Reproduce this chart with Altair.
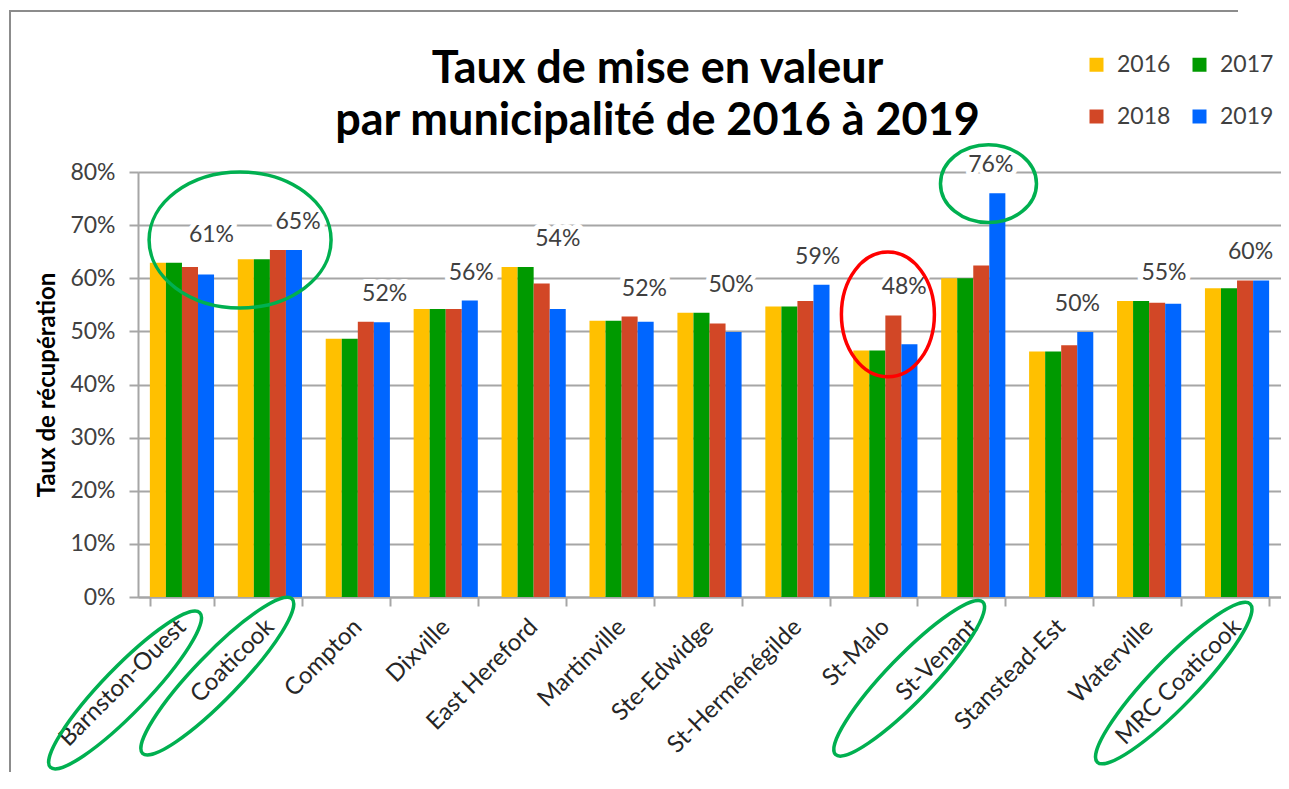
import altair as alt
import pandas as pd

# ---------------- data ----------------
categories = ["Barnston-Ouest", "Coaticook", "Compton", "Dixville", "East Hereford",
              "Martinville", "Ste-Edwidge", "St-Herménégilde", "St-Malo", "St-Venant",
              "Stanstead-Est", "Waterville", "MRC Coaticook"]
years = ["2016", "2017", "2018", "2019"]
v2016 = [0.629, 0.636, 0.486, 0.542, 0.621, 0.520, 0.535, 0.547, 0.464, 0.600, 0.462, 0.557, 0.581]
v2017 = [0.629, 0.636, 0.486, 0.542, 0.621, 0.520, 0.535, 0.547, 0.464, 0.600, 0.462, 0.557, 0.581]
v2018 = [0.621, 0.653, 0.518, 0.542, 0.590, 0.528, 0.515, 0.557, 0.530, 0.624, 0.474, 0.554, 0.596]
v2019 = [0.607, 0.653, 0.517, 0.558, 0.542, 0.518, 0.499, 0.588, 0.476, 0.760, 0.499, 0.552, 0.596]
year_colors = ["#FFC000", "#009A00", "#D24726", "#0066FF"]

# hand-drawn highlight ellipses (annotations), anchored on a category
ann_cat = ["Coaticook", "St-Venant", "St-Malo", "Barnston-Ouest", "Coaticook", "St-Venant", "MRC Coaticook"]
ann_shift = [-0.339, 0.173, 0.029, -0.647, -0.598, -0.729, -0.72]
ann_val = [0.672, 0.778, 0.532, -0.175, -0.149, -0.153, -0.162]
ann_len = [182, 96, 125, 215, 215, 212, 220]
ann_ratio = [0.747, 0.81, 0.744, 0.21, 0.21, 0.21, 0.21]
ann_angle = [0, 0, 90, 314, 314, 314, 314]
ann_color = ["#00B050", "#00B050", "#FF0000", "#00B050", "#00B050", "#00B050", "#00B050"]

# ---------------- tables ----------------
rows = []
for vals, yr in zip([v2016, v2017, v2018, v2019], years):
    for c, v in zip(categories, vals):
        rows.append({"commune": c, "annee": yr, "taux": v})
df = pd.DataFrame(rows)


def ellipse_path(r):
    return f"M-1,0A1,{r},0,1,0,1,0A1,{r},0,1,0,-1,0Z"


ann = pd.DataFrame({
    "pos": [categories.index(c) + 0.5 + s for c, s in zip(ann_cat, ann_shift)],
    "val": ann_val,
    "sz": [l * l for l in ann_len],
    "path": [ellipse_path(r) for r in ann_ratio],
    "ang": ann_angle,
    "col": ann_color,
})

FONT = "Lato"
GRID = "#a6a6a6"
YTITLE = "Taux de récupération"

x_band = alt.X("commune:N", sort=categories,
               scale=alt.Scale(paddingInner=0.27, paddingOuter=0.135),
               axis=alt.Axis(title=None, labelAngle=-45, labelAlign="right", labelBaseline="middle",
                             labelFont=FONT, labelFontSize=24, labelColor="#262626",
                             labelPadding=17, tickBand="extent", tickSize=9, tickColor=GRID,
                             tickWidth=2, domainColor=GRID, domainWidth=2, grid=False,
                             labelOverlap=False))
x_off = alt.XOffset("annee:N", sort=years,
                    scale=alt.Scale(domain=years, paddingInner=0, paddingOuter=0))
y_scale = alt.Scale(domain=[0, 0.8], nice=False, zero=True)

bars = alt.Chart(df).mark_bar().encode(
    x=x_band,
    xOffset=x_off,
    y=alt.Y("taux:Q", scale=y_scale, title=YTITLE,
            axis=alt.Axis(format=".0%", values=[0, 0.1, 0.2, 0.3, 0.4, 0.5, 0.6, 0.7, 0.8],
                          labelFont=FONT, labelFontSize=23, labelColor="#404040",
                          labelPadding=14, tickSize=9, tickColor=GRID, tickWidth=2,
                          domainColor=GRID, domainWidth=2, gridColor=GRID, gridWidth=2,
                          titleFont=FONT, titleFontSize=24, titleFontWeight="bold",
                          titleColor="black", titlePadding=10)),
    color=alt.Color("annee:N", scale=alt.Scale(domain=years, range=year_colors),
                    legend=alt.Legend(title=None, orient="none", legendX=947, legendY=-119,
                                      direction="horizontal", columns=2,
                                      symbolType="square", symbolSize=196,
                                      symbolStrokeWidth=0, labelFont=FONT, labelFontSize=23,
                                      labelColor="#404040", labelOffset=9,
                                      columnPadding=17, rowPadding=28)),
)

lab_base = alt.Chart(df).transform_joinaggregate(
    top="max(taux)", groupby=["commune"]
).transform_filter(alt.datum.annee == "2019")

lab_enc = dict(
    x=alt.X("commune:N", sort=categories, axis=None),
    xOffset=alt.XOffset("annee:N", sort=years),
    y=alt.Y("top:Q", title=YTITLE),
    text=alt.Text("taux:Q", format=".0%"),
)
halo = lab_base.mark_text(baseline="bottom", dy=-16, font=FONT, fontSize=23,
                          stroke="white", strokeWidth=10, strokeJoin="round",
                          fill="white").encode(**lab_enc)
labels = lab_base.mark_text(baseline="bottom", dy=-16, font=FONT, fontSize=23,
                            fill="#404040").encode(**lab_enc)

ellipses = alt.Chart(ann).mark_point(filled=False, strokeWidth=3.5, opacity=1).encode(
    x=alt.X("pos:Q", scale=alt.Scale(domain=[0, 13], nice=False, zero=False), axis=None),
    y=alt.Y("val:Q", title=YTITLE),
    shape=alt.Shape("path:N", scale=None),
    size=alt.Size("sz:Q", scale=None),
    angle=alt.Angle("ang:Q", scale=None),
    stroke=alt.Stroke("col:N", scale=None),
)

# outer chart frame (left and top edges; the rest lies outside the picture)
frame_left = alt.Chart(ann).mark_rule(color="#8c8c8c", strokeWidth=2).encode(
    x=alt.value(-128), y=alt.value(-162), y2=alt.value(600)
)
frame_top = alt.Chart(ann).mark_rule(color="#8c8c8c", strokeWidth=2).encode(
    x=alt.value(-129), x2=alt.value(1100), y=alt.value(-161)
)

chart = alt.layer(frame_left, frame_top, bars, halo, labels, ellipses).resolve_scale(
    x="independent"
).properties(
    width=1143,
    height=425,
    padding={"left": 130, "top": 164, "right": 0, "bottom": 176},
    autosize=alt.AutoSizeParams(type="none"),
    title=alt.Title(["Taux de mise en valeur", "par municipalité de 2016 à 2019"],
                    font=FONT, fontSize=45, fontWeight="bold", color="black",
                    anchor="middle", dx=-52, dy=155, lineHeight=52, offset=20),
).configure_view(strokeWidth=0).configure(background="white")

chart.save("out.html", embed_options={"renderer": "svg", "actions": False})
